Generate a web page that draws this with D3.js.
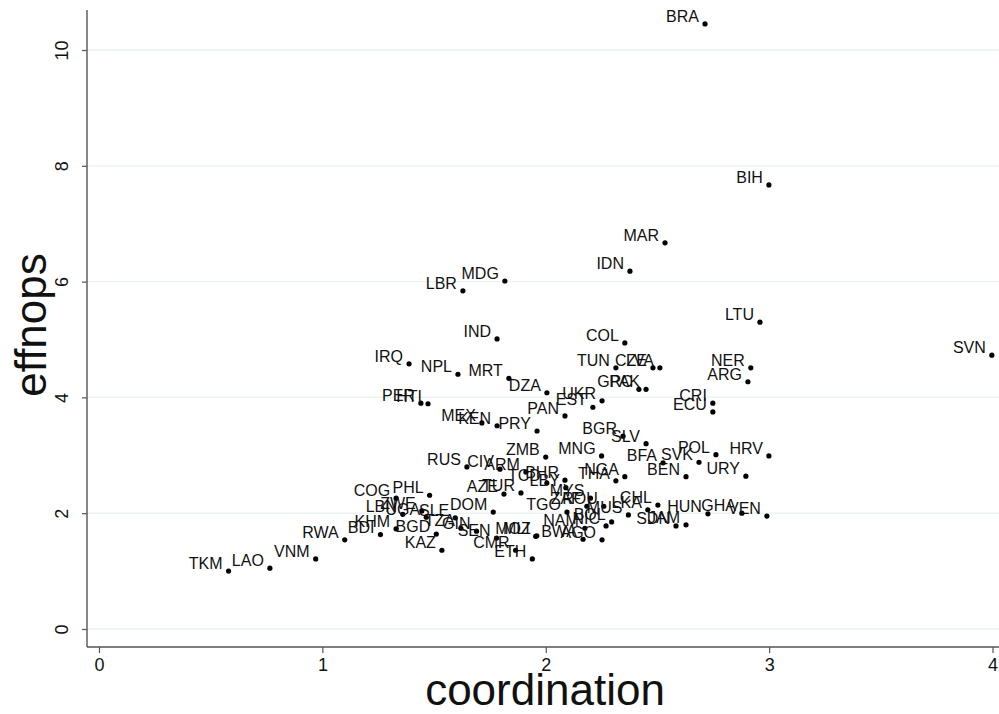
<!DOCTYPE html>
<html>
<head>
<meta charset="utf-8">
<script src="https://cdn.jsdelivr.net/npm/d3@7"></script>
<style>
  body { margin: 0; background: #fff; }
  svg { display: block; font-family: "Liberation Sans", Arial, sans-serif; }
</style>
</head>
<body>
<div id="chart"></div>
<script>
// country codes and their values
const codes = ["TKM","LAO","VNM","RWA","BDI","KHM","BGD","KAZ","COG","PHL",
  "ZWE","LBN","UGA","SLE","TZA","GIN","SEN","MOZ","MLI","CMR",
  "ETH","DOM","AZE","TUR","RUS","CIV","ARM","ZMB","MNG","TCD",
  "BHR","LBY","MYS","TGO","NAM","NIC","BWA","AGO","ZAF","ROU",
  "BOL","MUS","THA","NGA","CHL","LKA","SDN","JAM","HUN","GHA",
  "VEN","BEN","URY","BFA","SVK","POL","HRV","BGR","SLV","PAN",
  "EST","UKR","GRC","PAK","DZA","PER","HTI","MEX","KEN","PRY",
  "IRQ","NPL","MRT","IND","COL","TUN","CZE","LVA","NER","ARG",
  "CRI","ECU","LTU","SVN","LBR","MDG","IDN","MAR","BIH","BRA"];
const coordination = [0.58,0.765,0.97,1.10,1.26,1.33,1.51,1.535,1.33,1.48,
  1.445,1.36,1.465,1.595,1.62,1.69,1.78,1.96,1.955,1.865,
  1.94,1.765,1.813,1.889,1.647,1.795,1.911,2.00,2.25,2.005,
  2.086,2.09,2.20,2.095,2.175,2.27,2.167,2.252,2.184,2.26,
  2.295,2.37,2.314,2.354,2.502,2.457,2.583,2.628,2.726,2.878,
  2.99,2.628,2.896,2.525,2.686,2.762,2.999,2.346,2.449,2.086,
  2.211,2.252,2.417,2.449,2.005,1.441,1.473,1.714,1.782,1.961,
  1.388,1.607,1.835,1.782,2.354,2.314,2.480,2.511,2.918,2.905,
  2.748,2.748,2.959,3.997,1.629,1.817,2.377,2.534,2.999,2.713];
const effnops = [1.00,1.05,1.21,1.54,1.63,1.73,1.64,1.36,2.26,2.31,
  2.04,1.98,1.93,1.92,1.74,1.69,1.57,1.61,1.60,1.36,
  1.21,2.02,2.33,2.35,2.80,2.76,2.71,2.97,2.99,2.52,
  2.57,2.44,2.26,2.02,1.74,1.78,1.55,1.54,2.12,2.12,
  1.85,1.97,2.56,2.63,2.14,2.06,1.78,1.80,1.99,2.00,
  1.95,2.63,2.64,2.87,2.88,3.01,2.99,3.33,3.20,3.68,
  3.83,3.94,4.14,4.14,4.08,3.90,3.89,3.56,3.51,3.42,
  4.58,4.40,4.33,5.01,4.94,4.51,4.51,4.51,4.51,4.27,
  3.90,3.75,5.30,4.73,5.84,6.01,6.18,6.67,7.67,10.45];
const xTicks = [0, 1, 2, 3, 4];
const yTicks = [0, 2, 4, 6, 8, 10];

const W = 999, H = 714;
const svg = d3.select("#chart").append("svg")
  .attr("width", W).attr("height", H);

const x = d3.scaleLinear().domain([0, 4]).range([99, 992.5]);
const y = d3.scaleLinear().domain([0, 10]).range([629, 50]);
const left = 87, bottom = 647;

// grid lines
svg.append("g").selectAll("line").data(yTicks).join("line")
  .attr("x1", left + 1).attr("x2", W)
  .attr("y1", d => y(d)).attr("y2", d => y(d))
  .attr("stroke", "#e9f1f2").attr("stroke-width", 1.3);

// y axis
const yAxis = svg.append("g").attr("transform", `translate(${left},0)`)
  .call(d3.axisLeft(y).tickValues(yTicks).tickSize(5).tickFormat(d3.format("d")));
yAxis.select(".domain").attr("d", `M0,10V${bottom}`).attr("stroke", "#555").attr("stroke-width", 1.4);
yAxis.selectAll(".tick line").attr("stroke", "#555").attr("stroke-width", 1.2);
yAxis.selectAll(".tick text")
  .attr("transform", "rotate(-90)")
  .attr("x", 0).attr("y", -19).attr("dy", 0)
  .attr("text-anchor", "middle")
  .attr("font-size", 18).attr("fill", "#111")
  .style("font-family", "'Liberation Sans', Arial, sans-serif");

// x axis
const xAxis = svg.append("g").attr("transform", `translate(0,${bottom})`)
  .call(d3.axisBottom(x).tickValues(xTicks).tickSize(6).tickFormat(d3.format("d")));
xAxis.select(".domain").attr("d", `M${left},0H${W}`).attr("stroke", "#555").attr("stroke-width", 1.4);
xAxis.selectAll(".tick line").attr("stroke", "#555").attr("stroke-width", 1.2);
xAxis.selectAll(".tick text")
  .attr("y", 24).attr("dy", 0)
  .attr("font-size", 18).attr("fill", "#111")
  .style("font-family", "'Liberation Sans Narrow', 'Liberation Sans', sans-serif");

// axis titles
svg.append("text")
  .attr("x", 545).attr("y", 705)
  .attr("text-anchor", "middle")
  .attr("font-size", 44).attr("fill", "#111")
  .text("coordination");
svg.append("text")
  .attr("transform", "translate(46,325) rotate(-90)")
  .attr("text-anchor", "middle")
  .attr("font-size", 44).attr("fill", "#111")
  .text("effnops");

// points + labels
const data = codes.map((c, i) => ({ code: c, cx: coordination[i], ef: effnops[i] }));
const g = svg.append("g");
g.selectAll("circle").data(data).join("circle")
  .attr("cx", d => x(d.cx)).attr("cy", d => y(d.ef))
  .attr("r", 2.6).attr("fill", "#000");
g.selectAll("text").data(data).join("text")
  .attr("x", d => x(d.cx) - 6).attr("y", d => y(d.ef) - 2)
  .attr("text-anchor", "end")
  .attr("font-size", 16).attr("fill", "#111")
  .text(d => d.code);
</script>
</body>
</html>
